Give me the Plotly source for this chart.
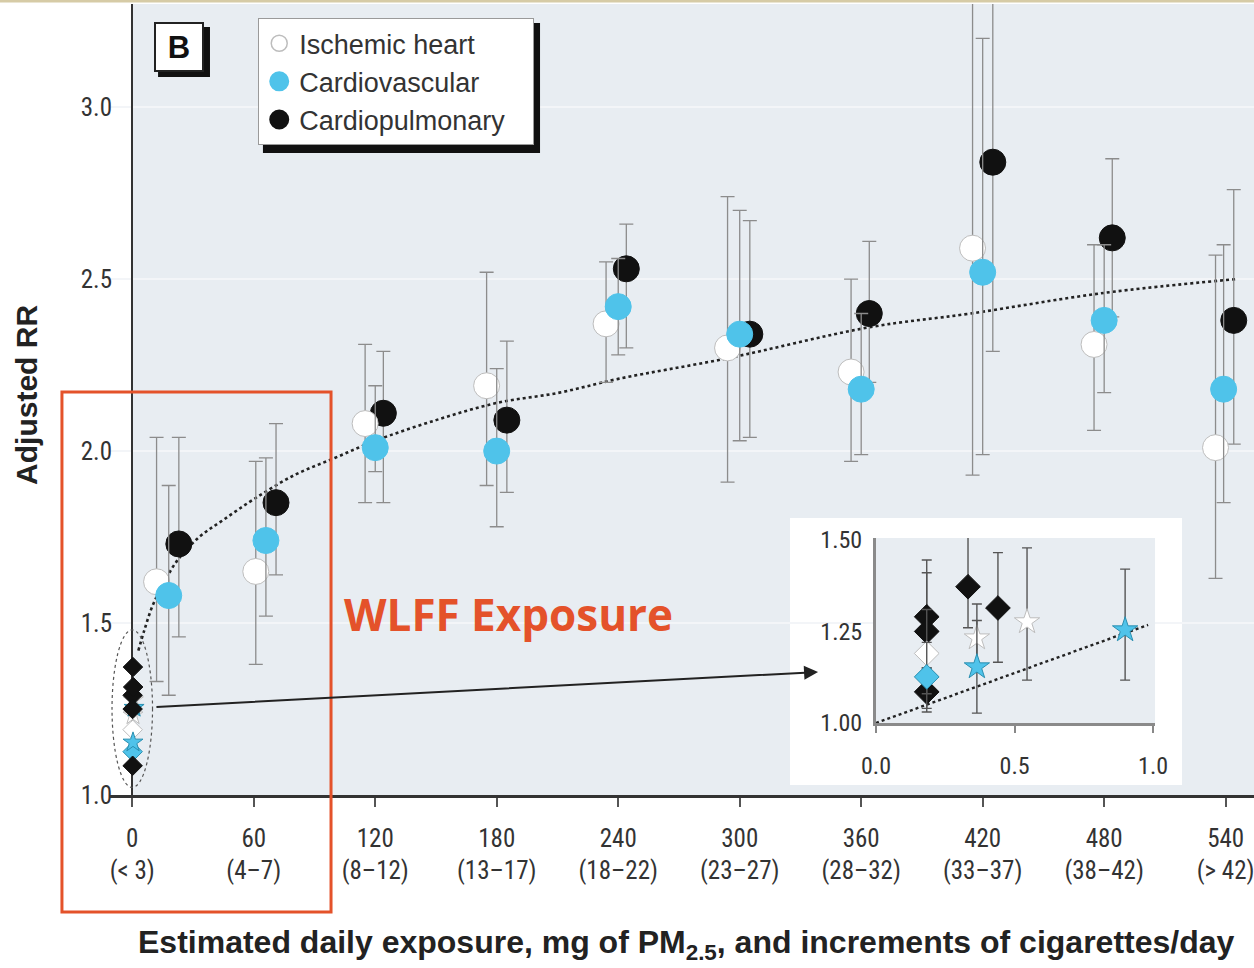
import plotly.graph_objects as go

# ---------------- data ----------------
series_names = ["Ischemic heart", "Cardiovascular", "Cardiopulmonary"]

# main panel: exposure (mg PM2.5) , adjusted RR, 95% CI
ish_x = [12, 61, 115, 175, 234, 294, 355, 415, 475, 535]
ish_y = [1.62, 1.65, 2.08, 2.19, 2.37, 2.30, 2.23, 2.59, 2.31, 2.01]
ish_lo = [1.33, 1.38, 1.85, 1.90, 2.20, 1.91, 1.97, 1.93, 2.06, 1.63]
ish_hi = [2.04, 1.97, 2.31, 2.52, 2.55, 2.74, 2.50, 3.40, 2.60, 2.57]

cv_x = [18, 66, 120, 180, 240, 300, 360, 420, 480, 539]
cv_y = [1.58, 1.74, 2.01, 2.00, 2.42, 2.34, 2.18, 2.52, 2.38, 2.18]
cv_lo = [1.29, 1.52, 1.94, 1.78, 2.28, 2.03, 1.99, 1.99, 2.17, 1.85]
cv_hi = [1.90, 1.98, 2.19, 2.24, 2.56, 2.70, 2.40, 3.20, 2.60, 2.60]

cp_x = [23, 71, 124, 185, 244, 305, 364, 425, 484, 544]
cp_y = [1.73, 1.85, 2.11, 2.09, 2.53, 2.34, 2.40, 2.84, 2.62, 2.38]
cp_lo = [1.46, 1.64, 1.85, 1.88, 2.30, 2.04, 2.20, 2.29, 2.39, 2.02]
cp_hi = [2.04, 2.08, 2.29, 2.32, 2.66, 2.67, 2.61, 3.50, 2.85, 2.76]

# fitted curve
fit_x = [3, 6, 10, 15, 22, 33, 45, 60, 80, 100, 120, 150, 180, 211, 240, 294, 364, 414, 480, 545]
fit_y = [1.42, 1.48, 1.55, 1.61, 1.68, 1.75, 1.80, 1.86, 1.93, 1.98, 2.03, 2.09, 2.14, 2.17,
         2.21, 2.27, 2.36, 2.40, 2.46, 2.50]

# low-exposure studies (inset), exposure in mg
lo_ish_x = [0.183, 0.364, 0.545]
lo_ish_y = [1.19, 1.232, 1.276]
lo_ish_lo = [1.08, 1.14, 1.117]
lo_ish_hi = [1.31, 1.325, 1.478]
lo_ish_sym = ["diamond", "star", "star"]

lo_cv_x = [0.183, 0.364, 0.899]
lo_cv_y = [1.126, 1.153, 1.254]
lo_cv_lo = [1.04, 1.027, 1.117]
lo_cv_hi = [1.22, 1.28, 1.42]
lo_cv_sym = ["diamond", "star", "star"]

lo_cp_x = [0.183, 0.183, 0.183, 0.332, 0.44]
lo_cp_y = [1.29, 1.25, 1.085, 1.372, 1.314]
lo_cp_lo = [1.20, 1.15, 1.03, 1.26, 1.166]
lo_cp_hi = [1.445, 1.41, 1.15, 1.52, 1.465]

inset_fit_x = [0.0, 0.982]
inset_fit_y = [1.0, 1.268]

x_tickvals = [0, 60, 120, 180, 240, 300, 360, 420, 480, 540]
x_ticktext = ["0<br>(&lt; 3)", "60<br>(4–7)", "120<br>(8–12)", "180<br>(13–17)", "240<br>(18–22)",
              "300<br>(23–27)", "360<br>(28–32)", "420<br>(33–37)", "480<br>(38–42)", "540<br>(&gt; 42)"]
y_tickvals = [1.0, 1.5, 2.0, 2.5, 3.0]
y_ticktext = ["1.0", "1.5", "2.0", "2.5", "3.0"]
inset_xticks = [0.0, 0.5, 1.0]
inset_xtext = ["0.0", "0.5", "1.0"]
inset_yticks = [1.0, 1.25, 1.5]
inset_ytext = ["1.00", "1.25", "1.50"]

# ---------------- styles ----------------
NARROW = "Liberation Sans Narrow, Arial Narrow, Roboto Condensed, sans-serif"
ARIAL = "Liberation Sans, Arial, sans-serif"
WHITE_FILL, CYAN, BLACK = "#ffffff", "#4fc3ea", "#111111"
BG = "#e8edf2"
ERR = "#8c8c8c"
ORANGE = "#e4522a"
PAD = "\u00a0\u00a0\u00a0"  # right padding inside the legend box

fig = go.Figure()


def err(y, lo, hi):
    return dict(type="data", symmetric=False,
                array=[h - v for v, h in zip(y, hi)],
                arrayminus=[v - l for v, l in zip(y, lo)],
                color=ERR, thickness=1.3, width=7)


def err_in(y, lo, hi):
    return dict(type="data", symmetric=False,
                array=[h - v for v, h in zip(y, hi)],
                arrayminus=[v - l for v, l in zip(y, lo)],
                color="#555555", thickness=1.4, width=5)


# dotted fit curve (main)
fig.add_trace(go.Scatter(x=fit_x, y=fit_y, mode="lines", line=dict(color="#222", width=2.6, dash="dot", shape="spline"),
                         showlegend=False, hoverinfo="skip"))

main_series = [
    (cp_x, cp_y, cp_lo, cp_hi, BLACK, BLACK),
    (ish_x, ish_y, ish_lo, ish_hi, WHITE_FILL, "#bdbdbd"),
    (cv_x, cv_y, cv_lo, cv_hi, CYAN, CYAN),
]
for xs, ys, lo, hi, fc, lc in main_series:
    fig.add_trace(go.Scatter(x=xs, y=ys, mode="markers", error_y=err(ys, lo, hi),
                             marker=dict(size=26, color=fc, line=dict(color=lc, width=1)),
                             showlegend=False))

# low-exposure points at x~0 on the main axes
low_series = [
    (lo_ish_x, lo_ish_y, lo_ish_sym, WHITE_FILL, "#bdbdbd"),
    (lo_cv_x, lo_cv_y, lo_cv_sym, CYAN, "#2a8fb0"),
    (lo_cp_x, lo_cp_y, ["diamond"] * len(lo_cp_x), BLACK, BLACK),
]
for xs, ys, sym, fc, lc in low_series:
    fig.add_trace(go.Scatter(x=xs, y=ys, mode="markers",
                             marker=dict(size=15, symbol=sym, color=fc, line=dict(color=lc, width=1)),
                             showlegend=False, cliponaxis=False))

# inset
fig.add_trace(go.Scatter(x=inset_fit_x, y=inset_fit_y, mode="lines", xaxis="x2", yaxis="y2",
                         line=dict(color="#222", width=2.4, dash="dot"), showlegend=False))
inset_series = [
    (lo_cp_x, lo_cp_y, lo_cp_lo, lo_cp_hi, ["diamond"] * len(lo_cp_x), BLACK, BLACK),
    (lo_ish_x, lo_ish_y, lo_ish_lo, lo_ish_hi, lo_ish_sym, WHITE_FILL, "#bdbdbd"),
    (lo_cv_x, lo_cv_y, lo_cv_lo, lo_cv_hi, lo_cv_sym, CYAN, "#2a8fb0"),
]
for xs, ys, lo, hi, sym, fc, lc in inset_series:
    fig.add_trace(go.Scatter(x=xs, y=ys, mode="markers", xaxis="x2", yaxis="y2",
                             error_y=err_in(ys, lo, hi),
                             marker=dict(size=19, symbol=sym, color=fc, line=dict(color=lc, width=1)),
                             showlegend=False))

# legend-only traces
for name, fc, lc, lw in zip(series_names, [WHITE_FILL, CYAN, BLACK], ["#bdbdbd", CYAN, BLACK], [1.5, 4, 4]):
    fig.add_trace(go.Scatter(x=[None], y=[None], mode="markers", name=name + PAD,
                             marker=dict(size=16, color=fc, line=dict(color=lc, width=lw))))

fig.update_layout(
    width=1254, height=968,
    margin=dict(l=110, r=0, t=4, b=173, autoexpand=False),
    paper_bgcolor="white", plot_bgcolor=BG,
    font=dict(family=NARROW, color="#333"),
    xaxis=dict(range=[-11, 554], tickvals=x_tickvals, ticktext=x_ticktext, automargin=False,
               ticklabeloverflow="allow",
               tickfont=dict(size=25, family=NARROW, color="#333"),
               ticks="outside", ticklen=9, tickwidth=1.5, tickcolor="#555",
               showline=True, linecolor="#333", linewidth=2.5,
               showgrid=False, zeroline=True, zerolinecolor="#333", zerolinewidth=2.2,
               ticklabelstandoff=10),
    yaxis=dict(range=[1.0, 3.3], tickvals=y_tickvals, ticktext=y_ticktext, automargin=False,
               tickfont=dict(size=25, family=NARROW, color="#333"),
               ticks="", showline=False, showgrid=True, gridcolor="#f3f5f8", gridwidth=2,
               zeroline=False, ticklabelstandoff=-3),
    xaxis2=dict(domain=[0.6696, 0.9135], anchor="y2", range=[0, 1.007], automargin=False,
                tickvals=inset_xticks, ticktext=inset_xtext,
                tickfont=dict(size=24, family=NARROW, color="#333"),
                ticks="outside", ticklen=7, tickcolor="#888", tickwidth=1.5,
                showline=True, linecolor="#8a8a8a", linewidth=3, showgrid=False, zeroline=False,
                ticklabelstandoff=12),
    yaxis2=dict(domain=[0.0910, 0.3249], anchor="x2", range=[1.0, 1.505], automargin=False,
                tickvals=inset_yticks, ticktext=inset_ytext,
                tickfont=dict(size=24, family=NARROW, color="#333"),
                ticks="", showline=True, linecolor="#8a8a8a", linewidth=3, showgrid=False, zeroline=False,
                ticklabelstandoff=6),
    legend=dict(x=0.1294, y=0.9823, xanchor="left", yanchor="top",
                bgcolor="white", bordercolor="#9a9a9a", borderwidth=1.2,
                font=dict(size=27, family=ARIAL, color="#333"), itemsizing="trace",
                tracegroupgap=0),
    showlegend=True,
)

shapes = [
    # white area left of the y axis
    dict(type="rect", xref="x", yref="paper", x0=-11, x1=0, y0=0, y1=1,
         fillcolor="white", line=dict(width=0), layer="below"),
    # white box behind the inset
    dict(type="rect", xref="paper", yref="paper", x0=0.5944, x1=0.9371, y0=0.0126, y1=0.3502,
         fillcolor="white", line=dict(width=0), layer="below"),
    # dashed ellipse around the low-exposure points
    dict(type="circle", xref="x", yref="y", x0=-10, x1=10, y0=1.022, y1=1.48,
         line=dict(color="#555", width=1.2, dash="dot"), layer="above"),
    # legend shadow
    dict(type="rect", xref="paper", yref="paper", x0=0.1337, x1=0.3759, y0=0.8116, y1=0.976,
         fillcolor="#111", line=dict(width=0), layer="above"),
    # "B" box shadow
    dict(type="rect", xref="paper", yref="paper", x0=0.042, x1=0.0874, y0=0.9077, y1=0.971,
         fillcolor="#111", line=dict(width=0), layer="above"),
    # red highlight box
    dict(type="rect", xref="paper", yref="paper", x0=-0.042, x1=0.1932, y0=-0.1479, y1=0.5095,
         line=dict(color=ORANGE, width=3), fillcolor="rgba(0,0,0,0)", layer="above"),
    # thin tan rule at the very top of the picture
    dict(type="line", xref="paper", yref="paper", x0=-0.0962, x1=1.0, y0=1.0038, y1=1.0038,
         line=dict(color="#d6cba6", width=3), layer="above"),
]
fig.update_layout(shapes=shapes)

annotations = [
    dict(xref="x", yref="y", axref="x", ayref="y", x=338.7, y=1.3576, ax=11.2, ay=1.256,
         showarrow=True, arrowhead=2, arrowsize=1.4, arrowwidth=2, arrowcolor="#222", text=""),
    dict(xref="paper", yref="paper", x=0.0603, y=0.9456, xanchor="center", yanchor="middle",
         text="<b>B</b>", showarrow=False,
         font=dict(size=31, family=ARIAL, color="#111"), bgcolor="white", bordercolor="#222",
         borderwidth=2, width=42, height=42, borderpad=2),
    dict(xref="paper", yref="paper", x=0.348, y=0.2288, xanchor="center", yanchor="middle",
         text="<b>WLFF Exposure</b>", showarrow=False,
         font=dict(size=44, family="Open Sans, sans-serif", color=ORANGE)),
    dict(xref="paper", yref="paper", x=0.5035, y=-0.1896, xanchor="center", yanchor="middle",
         text="<b>Estimated daily exposure, mg of PM<sub>2.5</sub>, and increments of cigarettes/day</b>",
         showarrow=False, font=dict(size=32, family=ARIAL, color="#222")),
    dict(xref="paper", yref="paper", x=-0.0726, y=0.5057, xanchor="center", yanchor="middle",
         text="<b>Adjusted RR</b>", textangle=-90,
         showarrow=False, font=dict(size=30, family=ARIAL, color="#222")),
]
fig.update_layout(annotations=annotations)

fig.write_html("out.html")
